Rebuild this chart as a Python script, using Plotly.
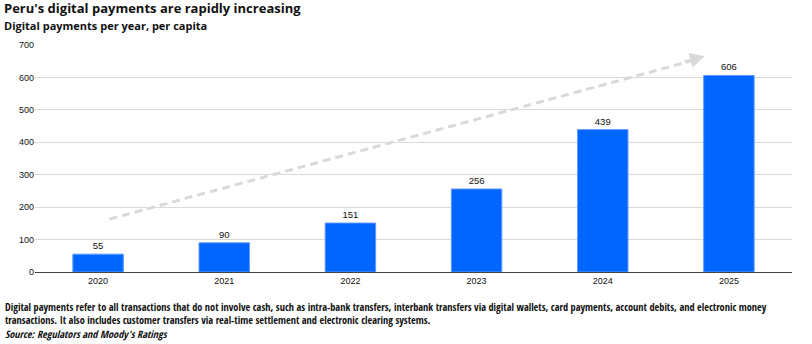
import plotly.graph_objects as go

years = ["2020", "2021", "2022", "2023", "2024", "2025"]
payments = [55, 90, 151, 256, 439, 606]
y_ticks = [0, 100, 200, 300, 400, 500, 600, 700]

title = "Peru's digital payments are rapidly increasing"
subtitle = "Digital payments per year, per capita"
note1 = ("Digital payments refer to all transactions that do not involve cash, such as intra-bank transfers, "
         "interbank transfers via digital wallets, card payments, account debits, and electronic money")
note2 = "transactions. It also includes customer transfers via real-time settlement and electronic clearing systems."
source = "Source: Regulators and Moody's Ratings"

# trend arrow (start/end in data coordinates)
arrow_x = [0.09, 4.74]
arrow_y = [163, 655]

W, H = 812, 344
L, R, T, B = 35, 20, 45, 72
xr = [-0.5, 5.5]

fig = go.Figure()
fig.add_trace(go.Bar(
    x=years, y=payments, marker=dict(color="#0066ff", line=dict(color="#5b9bff", width=1)),
    text=[str(v) for v in payments], textposition="outside",
    textfont=dict(family="Liberation Sans, Arial", size=9.5, color="#111"),
    cliponaxis=False, hoverinfo="skip",
))

fig.add_trace(go.Scatter(
    x=arrow_x, y=arrow_y, mode="lines", xaxis="x2",
    line=dict(color="#d9d9d9", width=3, dash="8px,5px"), hoverinfo="skip", showlegend=False,
))

fig.update_layout(
    width=W, height=H, margin=dict(l=L, r=R, t=T, b=B),
    paper_bgcolor="white", plot_bgcolor="white", showlegend=False,
    bargap=0.6,
    xaxis=dict(type="category", range=xr, showgrid=False, showline=True, linecolor="#444", linewidth=1,
               ticks="", tickfont=dict(family="Liberation Sans, Arial", size=9, color="#111")),
    xaxis2=dict(range=xr, overlaying="x", visible=False),
    yaxis=dict(range=[0, 700], tickvals=y_ticks, showgrid=True, gridcolor="#d9d9d9", gridwidth=1,
               zeroline=False, showline=False, ticks="",
               tickfont=dict(family="Liberation Sans, Arial", size=9, color="#111")),
)

fig.add_annotation(
    x=arrow_x[1] + 0.07, y=arrow_y[1] + 10, ax=arrow_x[1] - 0.1, ay=arrow_y[1] - 8,
    xref="x2", yref="y", axref="x2", ayref="y",
    showarrow=True, arrowhead=2, arrowsize=1, arrowwidth=3, arrowcolor="#d9d9d9", text="",
)

def paper_text(txt, px, py, size, family, bold=False, pad=1):
    t = "<b>" + txt + "</b>" if bold else txt
    fig.add_annotation(text=t, xref="paper", yref="paper",
                       x=(px - L) / (W - L - R), y=(H - B - py) / (H - T - B),
                       xanchor="left", yanchor="top", showarrow=False, align="left",
                       borderpad=pad,
                       font=dict(family=family, size=size, color="#111"))

paper_text(title, 3, -2, 13, "Open Sans", bold=True, pad=0)
paper_text(subtitle, 3, 17, 11, "Open Sans", bold=True, pad=0)
narrow = "Liberation Sans Narrow, Open Sans Condensed, Arial Narrow, sans-serif"
paper_text(note1 + "<br>" + note2 + "<br><i>" + source + "</i>", 3, 298, 10.3, narrow)

fig.write_html("out.html")
